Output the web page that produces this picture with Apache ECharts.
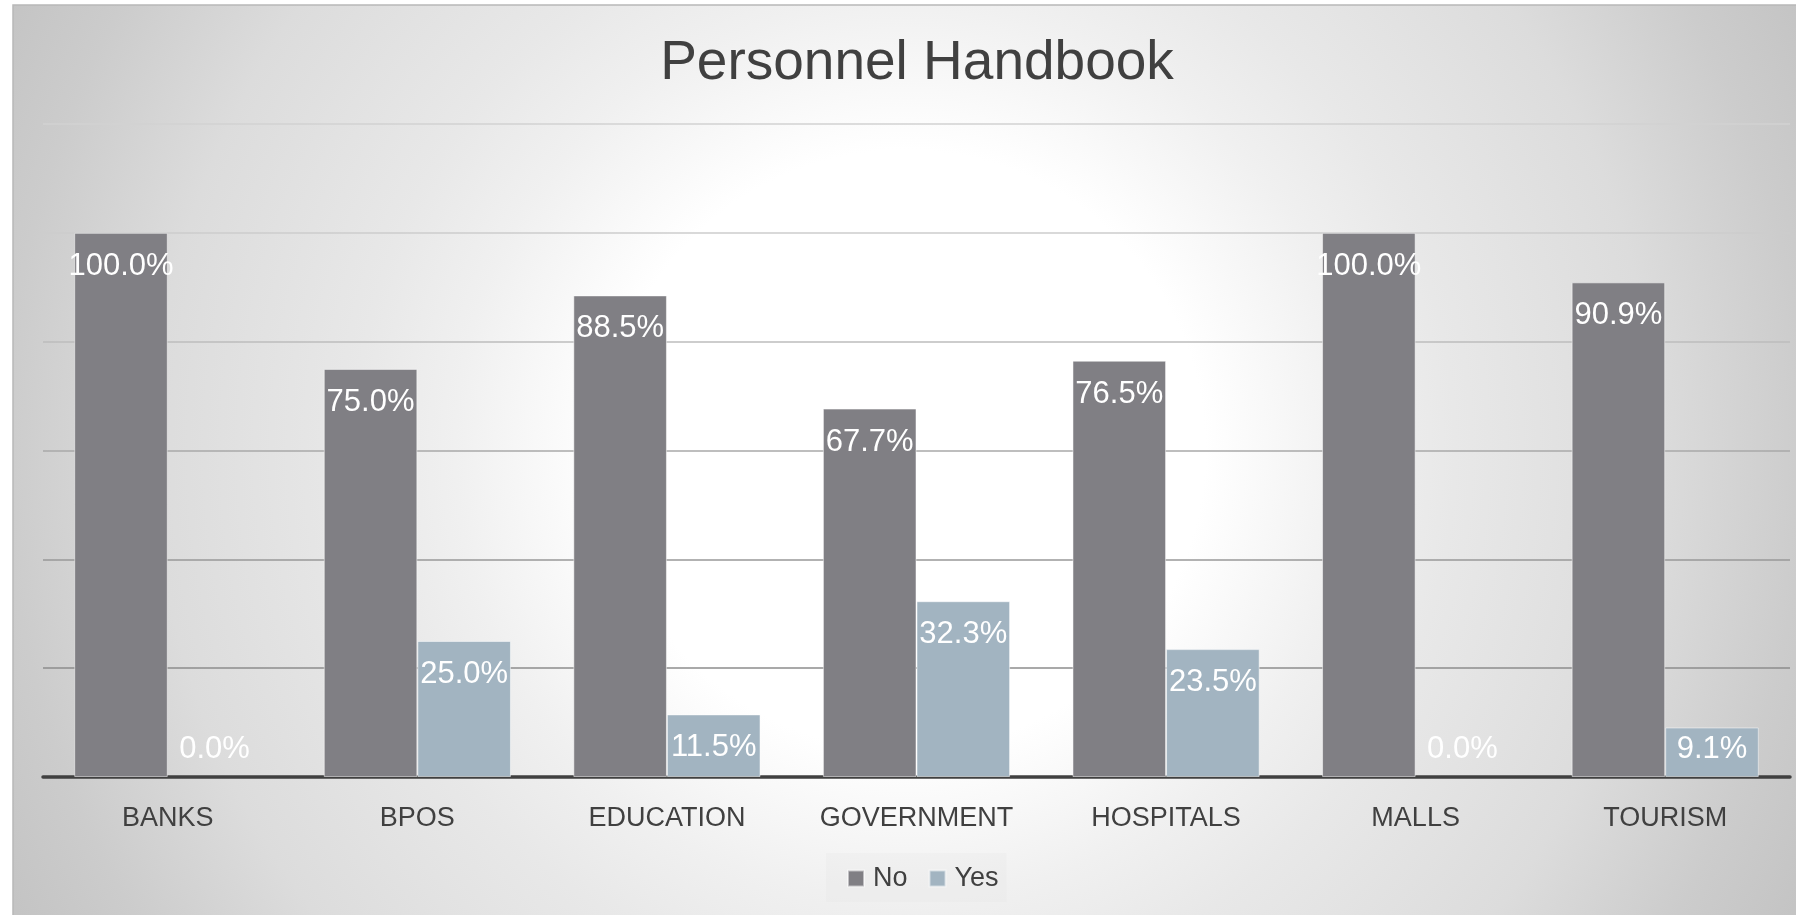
<!DOCTYPE html>
<html>
<head>
<meta charset="utf-8">
<title>Personnel Handbook</title>
<script src="https://cdn.jsdelivr.net/npm/echarts@6/dist/echarts.min.js"></script>
<style>
    html,body{margin:0;padding:0;background:#fff;}
    #main{width:1796px;height:915px;}
</style>
</head>
<body>
<div id="main"></div>
<script>
//数据
var categories = ['BANKS', 'BPOS', 'EDUCATION', 'GOVERNMENT', 'HOSPITALS', 'MALLS', 'TOURISM'];
var seriesNames = ['No', 'Yes'];
var noValues = [1.0, 0.75, 0.885, 0.677, 0.765, 1.0, 0.909];
var yesValues = [0, 0.25, 0.115, 0.323, 0.235, 0, 0.091];
var yMin = 0;
var yMax = 1.2;
var yStep = 0.2;

var font = 'Liberation Sans';
var myChart = echarts.init(document.getElementById('main'));

//小柱子的标签放到底部，0值不画边框
function barData(values){
    var arr = [];
    for(var i = 0;i<values.length;i++){
        if(values[i] == 0){
            arr.push({
                value: values[i],
                itemStyle: {borderWidth: 0},
                label: {position: 'insideBottom', distance: 12}
            });
        }else if(values[i] < 0.1){
            arr.push({
                value: values[i],
                label: {position: 'insideBottom', distance: 12}
            });
        }else{
            arr.push(values[i]);
        }
    }
    return arr;
}

function barLabel(){
    return {
        show: true,
        position: 'insideTop',
        distance: 18,
        color: '#fff',
        fontFamily: font,
        fontSize: 31,
        formatter: function(p){
            return (p.value * 100).toFixed(1) + '%';
        }
    };
}

var option = {
    animation: false,
    graphic: [{
        type: 'rect',
        z: -100,
        silent: true,
        shape: {x: 13, y: 5, width: 1800, height: 920},
        style: {
            fill: new echarts.graphic.RadialGradient(905, 450, 1000, [
                {offset: 0, color: '#ffffff'},
                {offset: 0.3, color: '#ffffff'},
                {offset: 0.45, color: '#f0f0f0'},
                {offset: 0.55, color: '#e8e8e8'},
                {offset: 0.75, color: '#dcdcdc'},
                {offset: 0.9, color: '#cccccc'},
                {offset: 1, color: '#c4c4c4'}
            ], true),
            stroke: '#b8b8b8',
            lineWidth: 1.5
        }
    }],
    title: {
        text: 'Personnel Handbook',
        left: 917,
        top: 36,
        padding: 0,
        textAlign: 'center',
        textStyle: {
            fontFamily: font,
            fontSize: 55,
            fontWeight: 'normal',
            color: '#404040'
        }
    },
    legend: {
        data: seriesNames,
        icon: 'rect',
        left: 826,
        top: 853,
        padding: [12, 8, 10, 21],
        itemGap: 21,
        itemWidth: 16,
        itemHeight: 16,
        backgroundColor: 'rgba(225,225,225,0.2)',
        textStyle: {
            fontFamily: font,
            fontSize: 27,
            color: '#404040',
            padding: [0, 0, 0, 4]
        }
    },
    grid: {
        left: 43,
        right: 6,
        top: 124,
        bottom: 138
    },
    xAxis: {
        type: 'category',
        data: categories,
        axisTick: {show: false},
        axisLine: {
            lineStyle: {color: '#404040', width: 3.5}
        },
        axisLabel: {
            interval: 0,
            margin: 28,
            fontFamily: font,
            fontSize: 27,
            color: '#404040'
        }
    },
    yAxis: {
        type: 'value',
        min: yMin,
        max: yMax,
        interval: yStep,
        axisLabel: {show: false},
        axisLine: {show: false},
        axisTick: {show: false},
        splitLine: {
            show: true,
            lineStyle: {
                width: 1.5,
                color: ['#404040', '#8c8c8c', '#999999', '#a8a8a8', '#bdbdbd', '#cccccc', '#d2d2d2']
            }
        }
    },
    series: [{
        name: seriesNames[0],
        type: 'bar',
        barGap: '0%',
        barCategoryGap: '25%',
        data: barData(noValues),
        itemStyle: {
            color: '#807f84',
            borderColor: 'rgba(255,255,255,0.5)',
            borderWidth: 1
        },
        label: barLabel()
    }, {
        name: seriesNames[1],
        type: 'bar',
        barGap: '0%',
        barCategoryGap: '25%',
        data: barData(yesValues),
        itemStyle: {
            color: '#a2b4c1',
            borderColor: 'rgba(255,255,255,0.5)',
            borderWidth: 1
        },
        label: barLabel()
    }]
};

myChart.setOption(option);
</script>
</body>
</html>
